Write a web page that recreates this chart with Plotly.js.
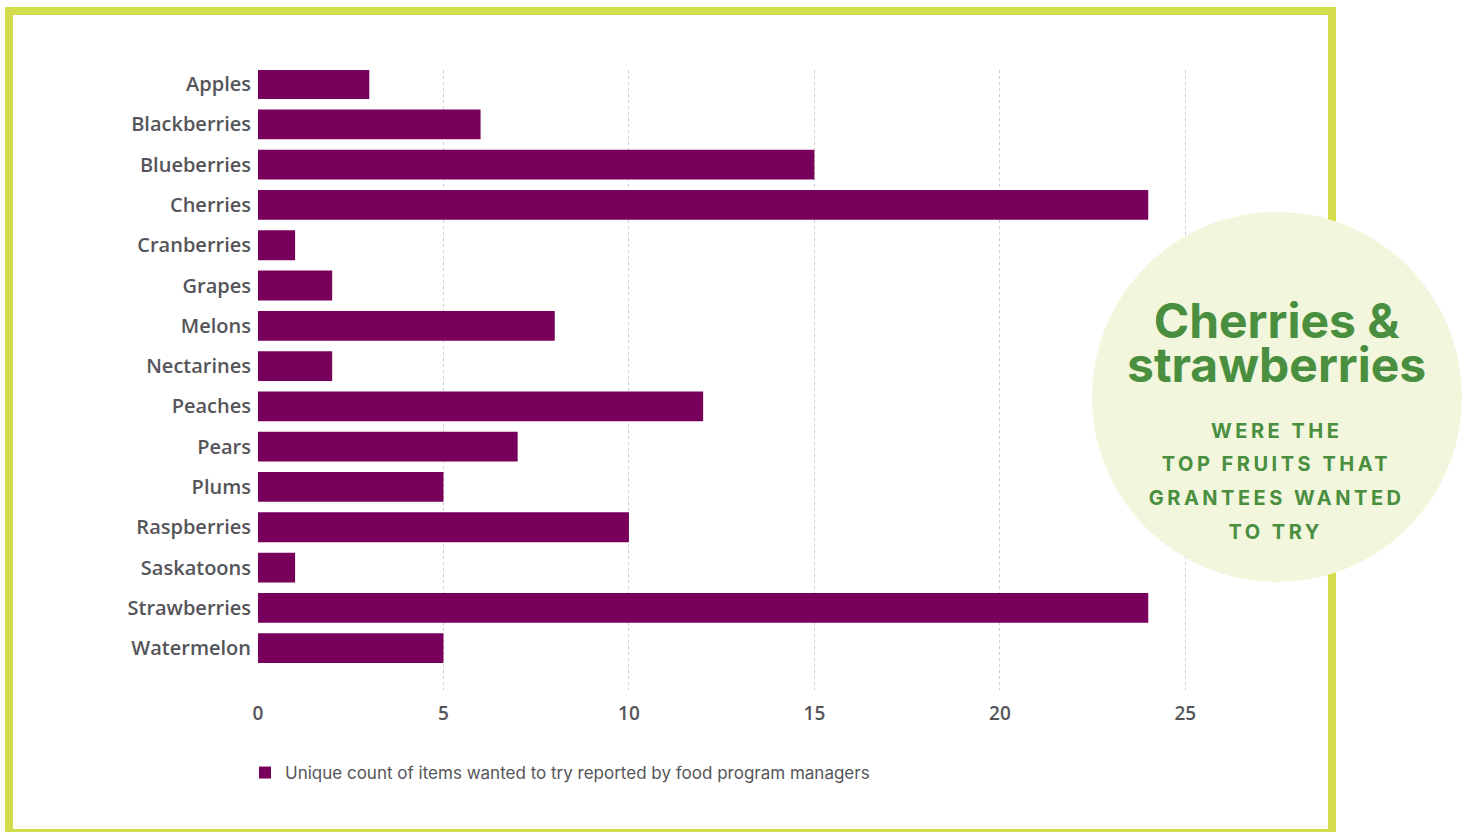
<!DOCTYPE html>
<html>
<head>
<meta charset="utf-8">
<script src="https://cdn.plot.ly/plotly-3.0.1.min.js"></script>
<style>
  html, body { margin: 0; padding: 0; background: #ffffff; overflow: hidden; }
  #frame { position: absolute; left: 5px; top: 7px; width: 1315px; height: 814px; border: 8px solid #d3dd4c; box-sizing: content-box; }
  #chart { position: absolute; left: 0; top: 0; width: 1473px; height: 832px; }
</style>
</head>
<body>
<div id="frame"></div>
<div id="chart"></div>
<script>
const categories = ["Apples","Blackberries","Blueberries","Cherries","Cranberries","Grapes","Melons","Nectarines","Peaches","Pears","Plums","Raspberries","Saskatoons","Strawberries","Watermelon"];
const values = [3, 6, 15, 24, 1, 2, 8, 2, 12, 7, 5, 10, 1, 24, 5];
const xTicks = [0, 5, 10, 15, 20, 25];
const seriesName = "Unique count of items wanted to try reported by food program managers";
const calloutTitle = ["Cherries &", "strawberries"];
const calloutLines = ["WERE THE", "TOP FRUITS THAT", "GRANTEES WANTED", "TO TRY"];

const W = 1473, H = 832;
const M = { l: 258, r: 232, t: 70, b: 142 };
const PW = W - M.l - M.r, PH = H - M.t - M.b;
const px = x => (x - M.l) / PW;
const py = y => (H - M.b - y) / PH;

const trace = {
  type: 'bar',
  orientation: 'h',
  y: categories,
  x: values,
  name: seriesName,
  marker: { color: '#78005c' },
  width: 0.74,
  showlegend: true,
  hoverinfo: 'x+y'
};

const green = '#4a8e3f';
const titleAnn = {
  xref: 'paper', yref: 'paper', x: px(1276), y: py(344),
  text: calloutTitle.join('<br>'), showarrow: false, xanchor: 'center', yanchor: 'middle',
  font: { family: 'Inter, "Open Sans", sans-serif', size: 48, color: green, weight: 700 }
};
const sub = calloutLines.map((t, i) => ({
  xref: 'paper', yref: 'paper', x: px(1276), y: py(431 + i * 33.5),
  text: t, showarrow: false, xanchor: 'center', yanchor: 'middle',
  font: { family: 'Inter, "Open Sans", sans-serif', size: 20, color: green, weight: 700 }
}));

const layout = {
  width: W, height: H,
  paper_bgcolor: 'rgba(0,0,0,0)',
  plot_bgcolor: 'rgba(0,0,0,0)',
  margin: M,
  bargap: 0.26,
  font: { family: '"Open Sans", Lato, sans-serif', color: '#555559' },
  xaxis: {
    range: [0, 26.5],
    tickvals: xTicks,
    ticktext: xTicks.map(String),
    showgrid: true, gridcolor: '#cfcfcf', griddash: 'dot', gridwidth: 1,
    zeroline: false, showline: false,
    ticks: 'outside', ticklen: 6, tickcolor: 'rgba(0,0,0,0)',
    tickfont: { size: 19, color: '#555559', weight: 600 },
    fixedrange: true
  },
  yaxis: {
    type: 'category',
    categoryorder: 'array', categoryarray: categories,
    range: [15.04, -0.35],
    showgrid: false, zeroline: false, showline: false,
    ticks: '', ticklabelstandoff: 6,
    tickfont: { size: 20, color: '#555559', weight: 600 },
    fixedrange: true
  },
  showlegend: true,
  legend: {
    orientation: 'h',
    xref: 'paper', yref: 'paper',
    x: px(245), y: py(773), xanchor: 'left', yanchor: 'middle',
    font: { family: 'Inter, "Open Sans", sans-serif', size: 17, color: '#555559' },
    bgcolor: 'rgba(0,0,0,0)'
  },
  shapes: [{
    type: 'circle', xref: 'paper', yref: 'paper',
    x0: px(1092), x1: px(1462), y0: py(582), y1: py(212),
    fillcolor: '#f1f6dc', line: { width: 0 }, layer: 'above'
  }],
  annotations: [titleAnn].concat(sub)
};

Plotly.newPlot('chart', [trace], layout, { displayModeBar: false, staticPlot: true }).then(() => {
  const anns = document.querySelectorAll('.annotation-text');
  anns.forEach((el, i) => {
    if (i >= 1) {
      el.setAttribute('letter-spacing', '3.5px');
    } else {
      // tighten the two-line title to the reference's line spacing
      const lines = el.querySelectorAll('tspan.line');
      if (lines.length === 2) {
        const y0 = parseFloat(lines[0].getAttribute('y') || el.getAttribute('y') || 0);
        lines[0].setAttribute('dy', '0');
        lines[1].setAttribute('dy', '0');
        lines[0].setAttribute('y', y0 + 0.3 * 48 / 2 + 0);
        lines[1].setAttribute('y', y0 + 0.3 * 48 / 2 + 44);
      }
    }
  });
});
</script>
</body>
</html>
